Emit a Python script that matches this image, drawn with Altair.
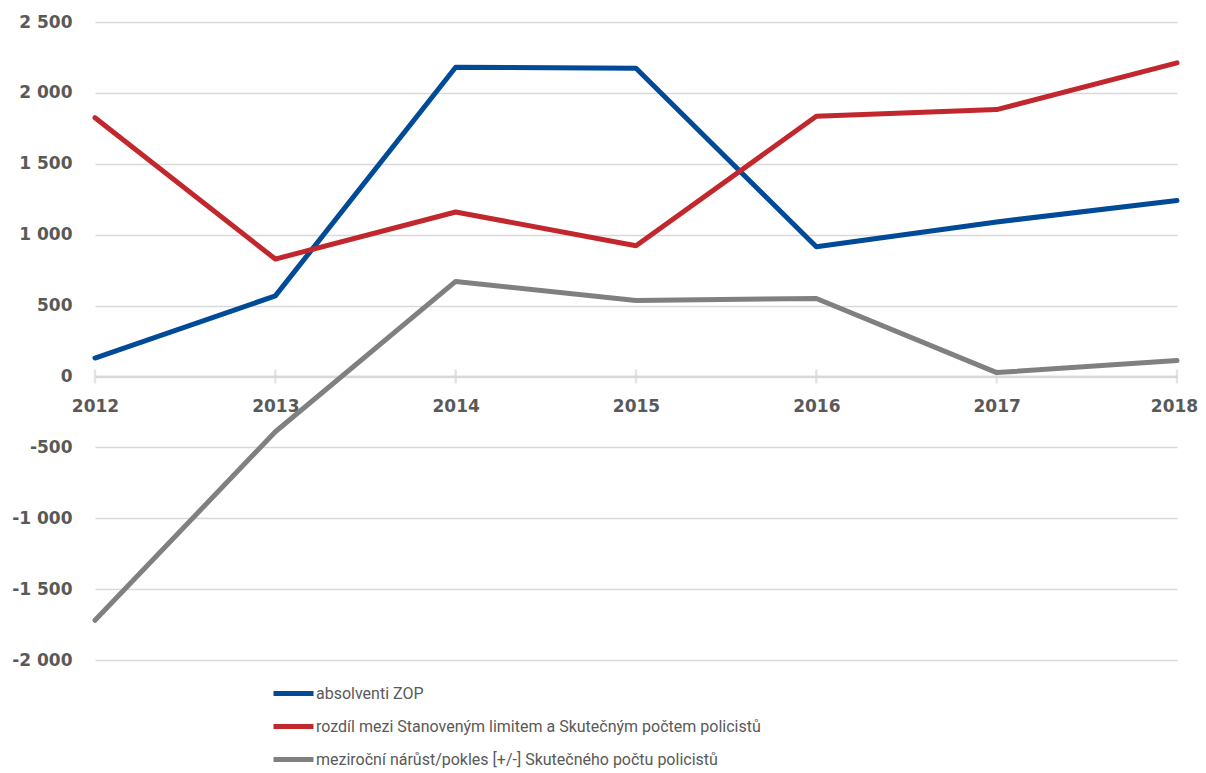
import altair as alt
import pandas as pd

years = [2012, 2013, 2014, 2015, 2016, 2017, 2018]
series_names = [
    "absolventi ZOP",
    "rozdíl mezi Stanoveným limitem a Skutečným počtem policistů",
    "meziroční nárůst/pokles [+/-] Skutečného počtu policistů",
]
absolventi = [130, 568, 2181, 2174, 915, 1090, 1241]
rozdil = [1825, 828, 1160, 922, 1835, 1882, 2212]
mezirocni = [-1720, -390, 670, 535, 550, 27, 112]
colors = ["#004a97", "#c1272d", "#808080"]
y_ticks = [-2000, -1500, -1000, -500, 0, 500, 1000, 1500, 2000, 2500]

rows = []
for name, vals in zip(series_names, [absolventi, rozdil, mezirocni]):
    for yr, v in zip(years, vals):
        rows.append({"rok": yr, "serie": name, "hodnota": v})
df = pd.DataFrame(rows)
ticks_df = pd.DataFrame({"rok": years, "hodnota": [0] * len(years)})

W, H = 1082, 638
ymin, ymax = -2000, 2500
zero_offset = -H * (0 - ymin) / (ymax - ymin)

AX_FONT = "DejaVu Sans"
TXT = "#595959"

x_enc = alt.X(
    "rok:Q",
    scale=alt.Scale(domain=[2012, 2018], nice=False, zero=False),
    axis=alt.Axis(
        values=years, format="d", title=None, offset=zero_offset, grid=False,
        ticks=False, domainColor="#d9d9d9", domainWidth=2.5,
        labelFont=AX_FONT, labelFontSize=17, labelFontWeight="bold",
        labelColor=TXT, labelPadding=22, labelFlush=False,
        labelOffset=alt.condition("datum.value == 2018", alt.value(-3), alt.value(0)),
    ),
)
y_enc = alt.Y(
    "hodnota:Q",
    scale=alt.Scale(domain=[ymin, ymax], nice=False),
    axis=alt.Axis(
        values=y_ticks, title=None, domain=False, ticks=False,
        gridColor="#d9d9d9", gridWidth=1.5,
        labelExpr="(datum.value < 0 ? '-' : '') + replace(format(abs(datum.value), ','), ',', ' ')",
        labelFont=AX_FONT, labelFontSize=17, labelFontWeight="bold",
        labelColor=TXT, labelPadding=23,
    ),
)

tick_layer = alt.Chart(ticks_df).mark_tick(
    orient="vertical", size=14, thickness=2.5, color="#d9d9d9"
).encode(x="rok:Q", y="hodnota:Q")

lines = alt.Chart(df).mark_line(strokeWidth=5, strokeCap="round", strokeJoin="round").encode(
    x=x_enc,
    y=y_enc,
    color=alt.Color(
        "serie:N",
        sort=series_names,
        scale=alt.Scale(domain=series_names, range=colors),
        legend=alt.Legend(
            title=None, orient="none", legendX=186, legendY=659,
            direction="vertical", symbolType="M-2,0H2", symbolSize=400,
            symbolStrokeWidth=5, labelFont="Roboto", labelFontSize=16,
            labelColor=TXT, labelOffset=10, rowPadding=10, padding=0,
            labelLimit=0,
        ),
    ),
    order=alt.Order("rok:Q"),
)

chart = alt.layer(tick_layer, lines).properties(
    width=W, height=H,
    background="white",
    autosize=alt.AutoSizeParams(type="none"),
    padding={"left": 87, "top": 14, "right": 21, "bottom": 112},
).configure_view(stroke=None)

chart.save("out.html", embed_options={"renderer": "svg", "actions": False})
